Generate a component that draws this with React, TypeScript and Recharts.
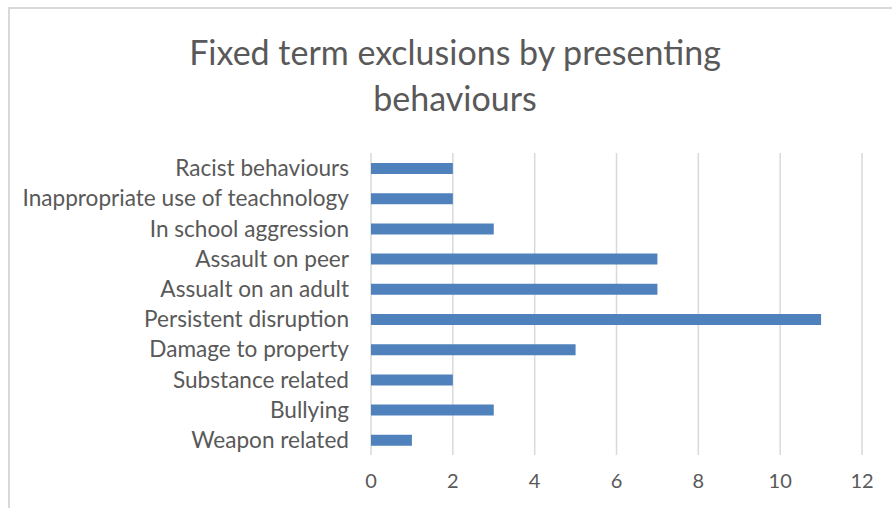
import React from "react";
import { BarChart, Bar, XAxis, YAxis, CartesianGrid } from "recharts";

const behaviours = [
  "Racist behaviours",
  "Inappropriate use of teachnology",
  "In school aggression",
  "Assault on peer",
  "Assualt on an adult",
  "Persistent disruption",
  "Damage to property",
  "Substance related",
  "Bullying",
  "Weapon related",
];
const exclusions = [2, 2, 3, 7, 7, 11, 5, 2, 3, 1];
const xTicks = [0, 2, 4, 6, 8, 10, 12];

const data = behaviours.map((name, i) => ({ name, value: exclusions[i] }));

const FONT = "Lato, 'Open Sans', sans-serif";
const TEXT = "#595959";

export default function App() {
  return (
    <div
      style={{
        position: "absolute",
        left: 0,
        top: 0,
        width: 892,
        height: 508,
        overflow: "hidden",
        background: "#fff",
        fontFamily: FONT,
      }}
    >
      <div
        style={{
          position: "absolute",
          left: 8,
          top: 7,
          width: 920,
          height: 540,
          border: "2px solid #d9d9d9",
        }}
      />
      <div
        style={{
          position: "absolute",
          left: 0,
          top: 29,
          width: 910,
          textAlign: "center",
          fontSize: 34,
          lineHeight: "46px",
          color: TEXT,
        }}
      >
        Fixed term exclusions by presenting
        <br />
        behaviours
      </div>
      <div style={{ position: "absolute", left: 0, top: 0 }}>
        <BarChart
          width={892}
          height={508}
          layout="vertical"
          data={data}
          margin={{ top: 153, right: 30, bottom: 0, left: 0 }}
        >
          <CartesianGrid horizontal={false} stroke="#d9d9d9" strokeWidth={1.5} />
          <XAxis
            type="number"
            domain={[0, 12]}
            ticks={xTicks}
            axisLine={false}
            tickLine={false}
            tickSize={0}
            tickMargin={19}
            height={53}
            tick={{ fontSize: 20, fill: TEXT, fontFamily: FONT }}
          />
          <YAxis
            type="category"
            dataKey="name"
            width={371}
            axisLine={false}
            tickLine={false}
            tickSize={0}
            tickMargin={22}
            interval={0}
            tick={{ fontSize: 22.6, fill: TEXT, fontFamily: FONT }}
          />
          <Bar dataKey="value" fill="#4f81bd" barSize={11} isAnimationActive={false} />
        </BarChart>
      </div>
    </div>
  );
}
